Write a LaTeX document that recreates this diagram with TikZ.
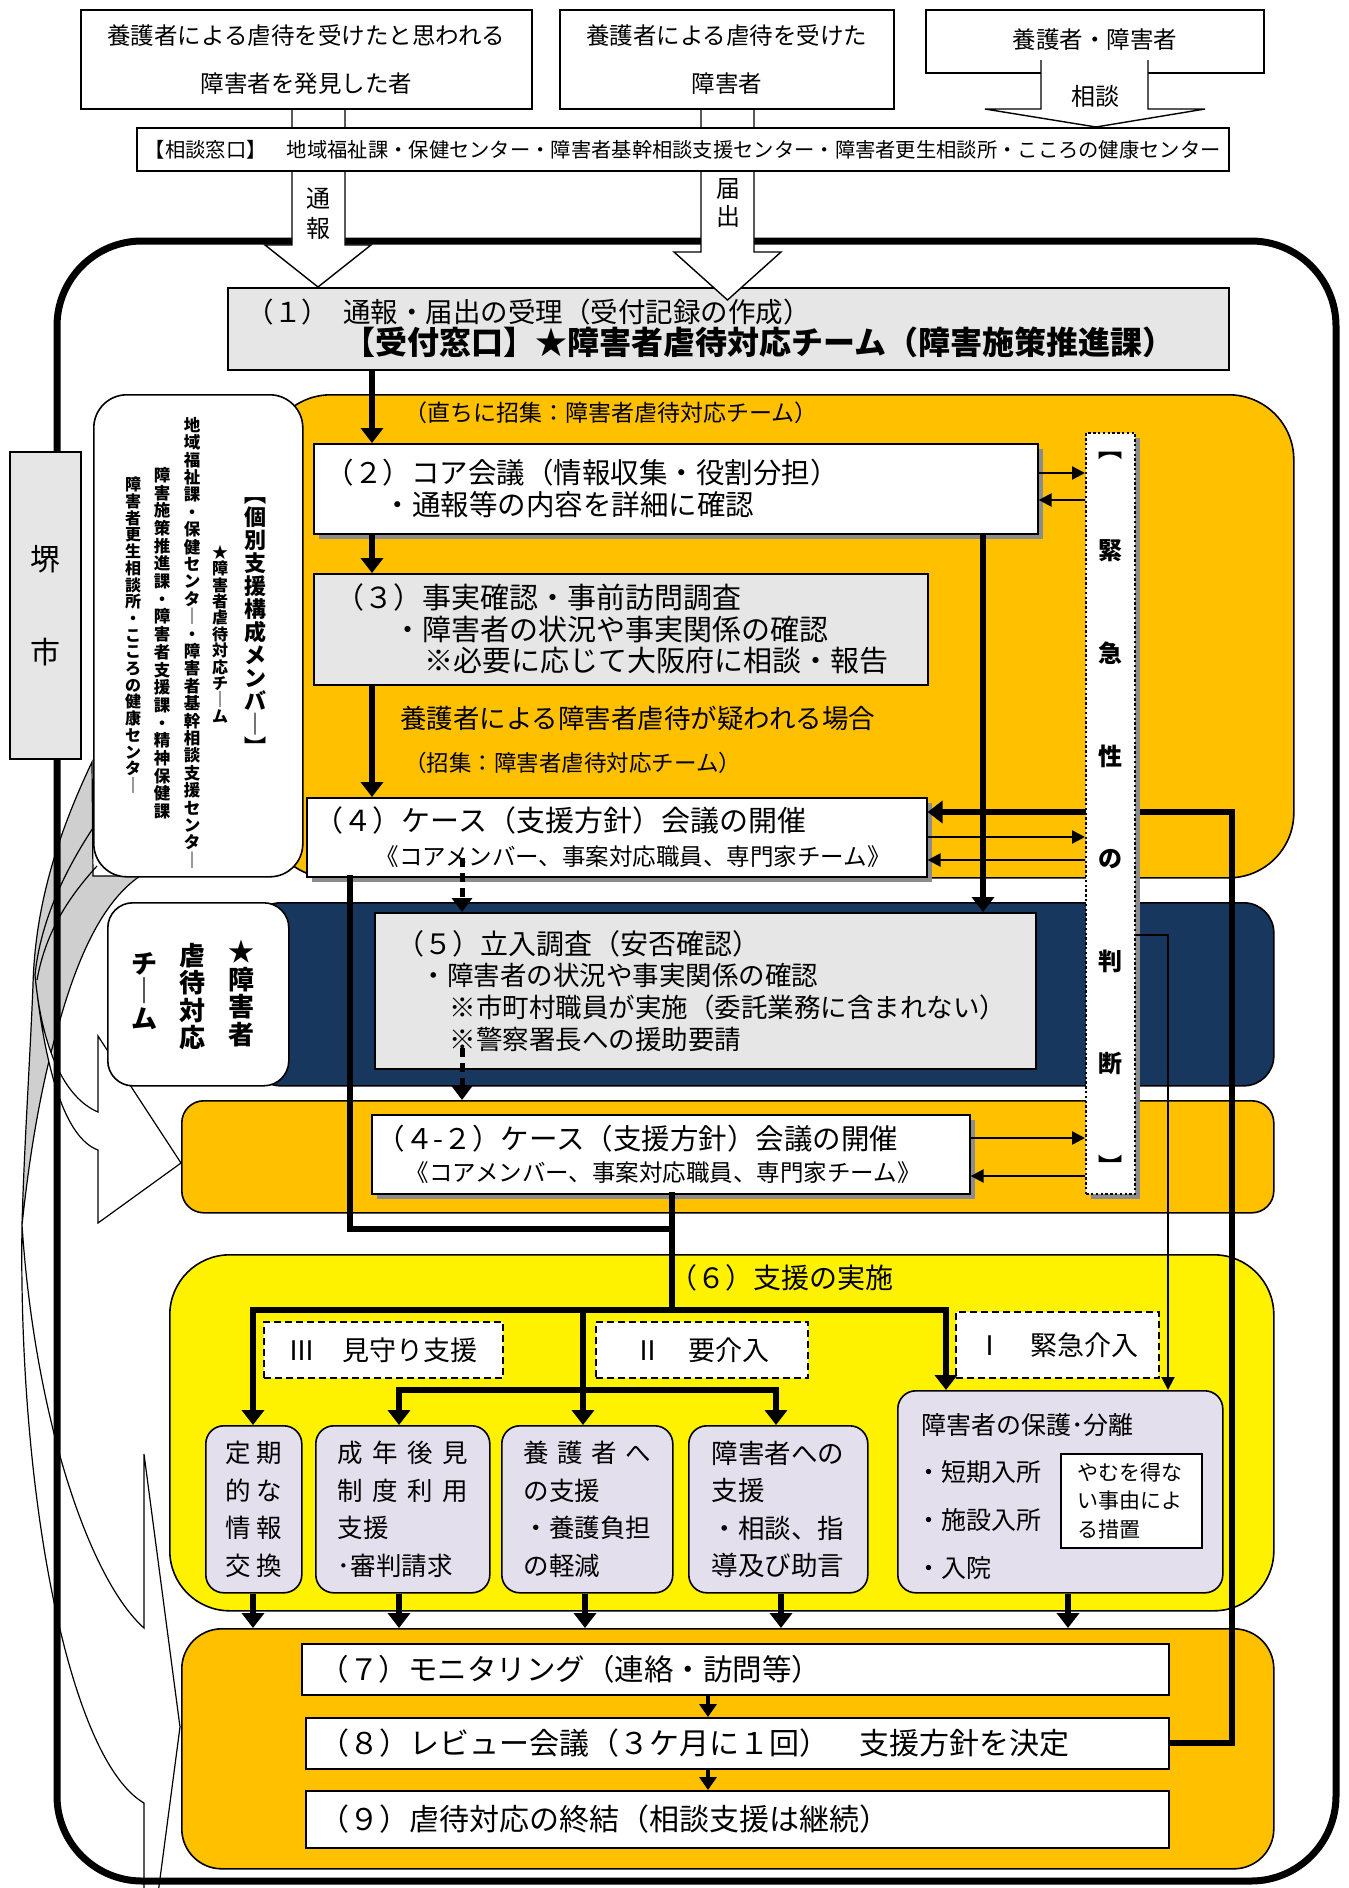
\documentclass[tikz,border=0pt]{standalone}
\usepackage{fontspec}
\setmainfont{Noto Sans CJK JP}
\usetikzlibrary{arrows.meta,shadows}
\setlength{\lineskiplimit}{-100pt}

\definecolor{gold}{HTML}{FFC000}
\definecolor{navy}{HTML}{17375E}
\definecolor{lav}{HTML}{E4DFEC}
\definecolor{pale}{HTML}{E6E6E6}
\definecolor{backgray}{HTML}{CFCFCF}

\newcommand{\fs}[2]{\fontsize{#1}{#2}\selectfont}
% stack the characters of #1 one above the other
\newcommand{\vstack}[1]{\vstackfirst#1\relax}
\def\vstackfirst#1{#1\vstacknext}
\def\vstacknext#1{\ifx\relax#1\expandafter\vstackstop\else\expandafter\vstackline\fi #1}
\def\vstackstop#1{}
\def\vstackline#1{\\#1\vstacknext}

\tikzset{
  box/.style       = {draw, line width=1.6pt, fill=white, inner sep=0pt,
                      anchor=north west, align=left},
  graybox/.style   = {box, fill=pale},
  boxshadow/.style = {drop shadow={shadow xshift=5pt, shadow yshift=-5pt,
                      fill=black!45, opacity=1}},
  topbox/.style    = {draw, line width=1.6pt, fill=white, inner sep=0pt,
                      anchor=north west, align=center},
  panel/.style     = {draw, line width=1.6pt, inner sep=0pt, anchor=north west},
  lavbox/.style    = {panel, fill=lav, rounded corners=18pt, align=center},
  tag/.style       = {draw, line width=1.8pt, dash pattern=on 7pt off 4pt,
                      fill=white, inner sep=0pt, anchor=north west},
  wh/.style 2 args = {minimum width=#1pt, minimum height=#2pt, text width=#1pt},
  vcol/.style      = {inner sep=0pt, anchor=north, align=center},
  txt/.style       = {inner sep=0pt, anchor=west},
  bigline/.style   = {line width=6pt, line cap=rect, line join=miter},
  bigarr/.style    = {line width=6pt, line join=miter,
                      -{Triangle[length=15pt,width=22pt]}},
  midarr/.style    = {line width=4pt, -{Triangle[length=13pt,width=17pt]}},
  thinarr/.style   = {line width=2.4pt, -{Triangle[length=13pt,width=13pt]}},
  dotarr/.style    = {line width=5pt, dash pattern=on 9pt off 6pt,
                      -{Triangle[length=14pt,width=20pt]}}
}

\begin{document}
\begin{tikzpicture}[x=1pt,y=-1pt]
\useasboundingbox (0,0) rectangle (1349,1888);

% curved arrows on the left
\begin{scope}
  \clip (0,0) rectangle (1349,1888);
  \filldraw[fill=backgray, line width=1.2pt]
    (92,762) .. controls (55,840) and (35,910) .. (33,985)
    .. controls (30,1060) and (24,1150) .. (22,1225)
    .. controls (30,1150) and (42,1080) .. (60,1020)
    .. controls (80,950) and (105,900) .. (140,876) -- (93,876) -- cycle;
  \draw[line width=1.2pt] (93,828) .. controls (62,875) and (40,925) .. (35,975);
  \draw[line width=1.2pt] (97,866) .. controls (66,900) and (45,935) .. (37,980);
  \filldraw[fill=white, line width=1.2pt]
    (35,975) .. controls (42,1050) and (65,1098) .. (98,1112) -- (98,1036)
    -- (181,1163) -- (98,1223) -- (98,1150)
    .. controls (65,1138) and (45,1070) .. (35,975) -- cycle;
  \filldraw[fill=white, line width=1.2pt]
    (22,1225) .. controls (35,1420) and (90,1580) .. (144,1628) -- (144,1454)
    -- (180,1727) -- (144,2000) -- (144,1803)
    .. controls (70,1760) and (18,1500) .. (22,1225) -- cycle;
\end{scope}

% outer frame
\draw[line width=7pt, rounded corners=85pt] (57,241) rectangle (1336,1881);

% coloured bands
\node[panel, fill=gold, rounded corners=65pt, minimum width=1028pt, minimum height=483pt] (firstpanel) at (265,394) {};
\node[panel, fill=navy, rounded corners=30pt, minimum width=1023pt, minimum height=183pt] (navypanel) at (250,902) {};
\node[panel, fill=gold, rounded corners=22pt, minimum width=1092pt, minimum height=112pt] (casepanel) at (181,1100) {};
\node[panel, fill=yellow, rounded corners=60pt, minimum width=1104pt, minimum height=356pt] (supportpanel) at (169,1254) {};
\node[panel, fill=gold, rounded corners=40pt, minimum width=1092pt, minimum height=240pt] (endpanel) at (181,1628) {};

% members, team, city
\node[panel, fill=white, rounded corners=33pt, minimum width=209pt, minimum height=482pt] (members) at (93,394) {};
\node[vcol, font=\fs{22}{23}\bfseries] (m1) at (255,497) {\vstack{︻個別支援構成メンバ｜︼}};
\node[vcol, font=\fs{16}{16.4}\bfseries] (m2) at (220,545) {\vstack{★障害者虐待対応チ｜ム}};
\node[vcol, font=\fs{16.5}{17.4}\bfseries] (m3) at (192,417) {\vstack{地域福祉課・保健センタ｜・障害者基幹相談支援センタ｜}};
\node[vcol, font=\fs{16.5}{17.7}\bfseries] (m4) at (162,467) {\vstack{障害施策推進課・障害者支援課・精神保健課}};
\node[vcol, font=\fs{16}{16.7}\bfseries] (m5) at (133,477) {\vstack{障害者更生相談所・こころの健康センタ｜}};

\node[panel, fill=white, rounded corners=25pt, minimum width=181pt, minimum height=183pt] (team) at (107,902) {};
\node[vcol, font=\fs{26}{27.5}\bfseries] (t1) at (241,940) {\vstack{★障害者}};
\node[vcol, font=\fs{26}{27.5}\bfseries] (t2) at (192,943) {\vstack{虐待対応}};
\node[vcol, font=\fs{26}{27.5}\bfseries] (t3) at (144,952) {\vstack{チ｜ム}};

\node[panel, fill=pale, minimum width=71pt, minimum height=307pt, align=center, font=\fs{30}{93}] (sakai) at (9,451) {\vstack{堺市}};

% reception
\node[graybox, wh={1001}{82}, font=\fs{27.5}{32}] (recv) at (227,287)
  {\hspace*{19pt}（１）\hspace{14pt}通報・届出の受理（受付記録の作成）\\
   \hspace*{116pt}\fontsize{32}{33}\selectfont\bfseries 【受付窓口】★障害者虐待対応チーム（障害施策推進課）};

% block arrows from the top
\filldraw[fill=white, line width=1.4pt] (292,108) -- (292,245) -- (265,245) -- (318,287)
  -- (371,245) -- (345,245) -- (345,108);
\filldraw[fill=white, line width=1.4pt] (701,108) -- (701,252) -- (674,252) -- (727.5,300)
  -- (781,252) -- (754,252) -- (754,108);
\node[vcol, font=\fs{24}{30}] (tsuho) at (318,188) {\vstack{通報}};
\node[vcol, font=\fs{24}{28}] (todoke) at (728,178) {\vstack{届出}};

\node[topbox, wh={451}{99}, font=\fs{23.5}{48}] (finder) at (80,9)
  {養護者による虐待を受けたと思われる\\障害者を発見した者};
\node[topbox, wh={334}{99}, font=\fs{23.5}{48}] (victim) at (559,9)
  {養護者による虐待を受けた\\障害者};
\node[topbox, wh={338}{63}, font=\fs{23.5}{28}] (family) at (925,9) {\raisebox{5pt}{養護者・障害者}};
\fill[white] (1041,60) -- (1041,109) -- (985,109) -- (1096,127) -- (1205,109) -- (1148,109) -- (1148,60) -- cycle;
\draw[line width=1.4pt] (1041,60) -- (1041,109) -- (985,109) -- (1096,127) -- (1205,109) -- (1148,109) -- (1148,60);
\node[font=\fs{24}{28}, inner sep=0pt] (soudan) at (1095,96) {相談};

\node[topbox, wh={1092}{43}, font=\fs{20.3}{24}] (consult) at (136,127)
  {【相談窓口】　地域福祉課・保健センター・障害者基幹相談支援センター・障害者更生相談所・こころの健康センター};

% steps (2) to (5)
\node[txt, font=\fs{23}{26}] (callnote) at (404,413) {（直ちに招集：障害者虐待対応チーム）};
\node[box, boxshadow, wh={724}{90}, font=\fs{28.5}{32}] (core) at (313,443)
  {\hspace*{12pt}（２）コア会議（情報収集・役割分担）\\
   \hspace*{70pt}・通報等の内容を詳細に確認};
\node[graybox, wh={614}{111}, font=\fs{29}{31.5}] (fact) at (313,573)
  {\hspace*{22pt}（３）事実確認・事前訪問調査\\
   \hspace*{80pt}・障害者の状況や事実関係の確認\\
   \hspace*{111pt}※必要に応じて大阪府に相談・報告};
\node[txt, font=\fs{26.5}{30}] (suspect) at (400,718) {養護者による障害者虐待が疑われる場合};
\node[txt, font=\fs{22.5}{26}] (callnote2) at (404,763) {（招集：障害者虐待対応チーム）};
\node[box, boxshadow, wh={620}{79}, font=\fs{29}{34}] (case) at (306,797)
  {\hspace*{8pt}（４）ケース（支援方針）会議の開催\\
   \hspace*{69pt}\fontsize{23.5}{34}\selectfont《コアメンバー、事案対応職員、専門家チーム》};
\node[graybox, wh={661}{156}, font=\fs{28}{31.7}] (visit) at (374,912)
  {\hspace*{22pt}（５）立入調査（安否確認）\\
   \hspace*{46pt}\fontsize{26.5}{31.7}\selectfont・障害者の状況や事実関係の確認\\
   \hspace*{75pt}※市町村職員が実施（委託業務に含まれない）\\
   \hspace*{75pt}※警察署長への援助要請};
\node[box, boxshadow, wh={598}{79}, font=\fs{28.5}{32}] (caseb) at (371,1114)
  {\hspace*{5pt}（４-２）ケース（支援方針）会議の開催\\
   \hspace*{34pt}\fontsize{23.5}{32}\selectfont《コアメンバー、事案対応職員、専門家チーム》};

% step (6)
\node[txt, font=\fs{28}{30}] (support) at (669,1278) {（６）支援の実施};
\node[tag, minimum width=239pt, minimum height=56pt, font=\fs{27}{30}] (watch) at (263,1321) {Ⅲ　見守り支援};
\node[tag, minimum width=212pt, minimum height=56pt, font=\fs{27}{30}] (need) at (595,1321) {Ⅱ　要介入};
\node[tag, minimum width=203pt, minimum height=66pt, font=\fs{27}{30}] (emerg) at (955,1311) {Ⅰ　緊急介入};

\node[lavbox, wh={96}{167}, font=\fs{25.5}{37.5}] (info) at (205,1425)
  {\makebox[56pt]{定\hfill 期}\\\makebox[56pt]{的\hfill な}\\\makebox[56pt]{情\hfill 報}\\\makebox[56pt]{交\hfill 換}};
\node[lavbox, wh={174}{167}, font=\fs{25.5}{37.5}] (guard) at (315,1425)
  {\makebox[130pt]{成\hfill 年\hfill 後\hfill 見}\\\makebox[130pt]{制\hfill 度\hfill 利\hfill 用}\\
   \makebox[130pt][l]{支援}\\\makebox[130pt][l]{･審判請求}};
\node[lavbox, wh={171}{167}, font=\fs{25.5}{37.5}] (carer) at (501,1425)
  {\makebox[127pt]{養\hfill 護\hfill 者\hfill へ}\\\makebox[127pt][l]{の支援}\\
   \makebox[127pt][l]{・養護負担}\\\makebox[127pt][l]{の軽減}};
\node[lavbox, wh={179}{167}, font=\fs{26.5}{37.5}] (person) at (688,1425)
  {\makebox[133pt][l]{障害者への}\\\makebox[133pt][l]{支援}\\
   \makebox[133pt][l]{・相談、指}\\\makebox[133pt][l]{導及び助言}};
\node[lavbox, minimum width=325pt, minimum height=202pt] (protect) at (897,1390) {};
\node[txt, font=\fs{25}{30}] (ptitle) at (921,1425) {障害者の保護･分離};
\node[txt, align=left, font=\fs{25}{48}] (pitems) at (916,1520) {・短期入所\\・施設入所\\・入院};
\node[draw, line width=1.6pt, fill=white, anchor=north west, inner xsep=17pt, inner ysep=0pt,
      minimum width=141pt, minimum height=94pt, text width=107pt, align=left,
      font=\fs{21}{28.5}] (pnote) at (1060,1453) {やむを得な\\い事由によ\\る措置};

% steps (7) to (9)
\node[box, wh={867}{51}, font=\fs{29.5}{32}] (monitor) at (301,1643)
  {\hspace*{18pt}（７）モニタリング（連絡・訪問等）};
\node[box, wh={863}{51}, font=\fs{30}{32}] (review) at (305,1717)
  {\hspace*{14pt}（８）レビュー会議（３ケ月に１回）　支援方針を決定};
\node[box, wh={863}{57}, font=\fs{30}{32}] (close) at (305,1790)
  {\hspace*{14pt}（９）虐待対応の終結（相談支援は継続）};

% connectors
\coordinate (xa) at (372,0);
\coordinate (xd) at (462,0);
\coordinate (xr) at (983,0);
\coordinate (xl) at (350,0);
\coordinate (xm) at (672,0);
\coordinate (ym) at (0,1229);
\coordinate (split) at (672,1310);
\coordinate (lvl) at (583,1390);
\coordinate (xc) at (708,0);
\coordinate (xloop) at (1232,0);
\coordinate (yloop) at (0,812);

\draw[bigarr] (recv.south -| xa) -- (core.north -| xa);
\draw[bigarr] (core.south -| xa) -- (fact.north -| xa);
\draw[bigarr] (fact.south -| xa) -- (case.north -| xa);
\draw[bigarr] (core.south -| xr) -- (visit.north -| xr);
\draw[dotarr] (462,858) -- (visit.north -| xd);
\draw[dotarr] (462,1048) -- (casepanel.north -| xd);

\draw[bigline] (case.south -| xl) -- (xl |- ym) -- (xm |- ym);
\draw[bigline] (caseb.south -| xm) -- (split);
\draw[bigline] (253,1310) -- (946,1310);
\draw[bigline] (399,1390) -- (776,1390);
\draw[bigarr] (253,1310) -- (info.north -| 253,0);
\draw[bigarr] (lvl |- split) -- (carer.north -| lvl);
\draw[bigarr] (946,1310) -- (protect.north -| 946,0);
\draw[bigarr] (399,1390) -- (guard.north -| 399,0);
\draw[bigarr] (776,1390) -- (person.north -| 776,0);
\foreach \b/\x in {info/253, guard/399, carer/585, person/781, protect/1068}
  \draw[bigarr] (\b.south -| \x,0) -- (endpanel.north -| \x,0);

\draw[midarr] (monitor.south -| xc) -- (review.north -| xc);
\draw[midarr] (review.south -| xc) -- (close.north -| xc);
\draw[bigarr] (review.east) -- (xloop |- review.east) -- (xloop |- yloop) -- (case.east |- yloop);

% urgency column
\node[draw, line width=2.4pt, dash pattern=on 2.4pt off 2.4pt, fill=white, boxshadow,
      inner sep=0pt, anchor=north west, minimum width=49pt, minimum height=761pt,
      align=center, font=\fs{24}{102.6}\bfseries] (urgency) at (1085,432)
  {\vstack{︻緊急性の判断︼}};

\draw[thinarr] (core.east |- 0,473) -- (urgency.west |- 0,473);
\draw[thinarr] (urgency.west |- 0,500) -- (core.east |- 0,500);
\draw[thinarr] (case.east |- 0,837) -- (urgency.west |- 0,837);
\draw[thinarr] (urgency.west |- 0,860) -- (case.east |- 0,860);
\draw[thinarr] (caseb.east |- 0,1138) -- (urgency.west |- 0,1138);
\draw[thinarr] (urgency.west |- 0,1176) -- (caseb.east |- 0,1176);
\draw[thinarr, line width=2pt] (urgency.east |- 0,935) -- (1168,935) -- (protect.north -| 1168,0);

\end{tikzpicture}
\end{document}
